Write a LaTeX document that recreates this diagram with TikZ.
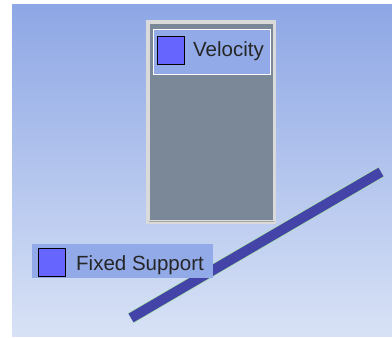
\documentclass[tikz,border=0pt]{standalone}
\usepackage{fontspec}
\setmainfont{Liberation Sans}
\definecolor{bgtop}{HTML}{8EA7E5}
\definecolor{bgbot}{HTML}{D8E2F6}
\definecolor{tagfill}{HTML}{93AAE8}
\definecolor{iconfill}{HTML}{6666FF}
\definecolor{framegray}{HTML}{DADADA}
\definecolor{panelfill}{HTML}{7A8898}
\definecolor{barblue}{HTML}{4444A8}
\definecolor{baredge}{HTML}{A8E0A8}
\tikzset{
  icon/.style={draw=black, line width=1.2pt, fill=iconfill, minimum width=27pt, minimum height=28pt, inner sep=0pt},
  tagtext/.style={font=\fontsize{20.5}{23}\selectfont, text=black!85, anchor=base west, inner sep=0pt},
}
\begin{document}
\begin{tikzpicture}[x=1pt,y=-1pt]
  % page and background gradient
  \useasboundingbox (0,0) rectangle (392,338);
  \fill[white] (0,0) rectangle (392,338);
  \shade[top color=bgtop, bottom color=bgbot] (12,4) rectangle (392,336);

  % panel with light frame
  \fill[framegray] (146,20) rectangle (276,224);
  \fill[panelfill] (150,24) rectangle (273,220);
  \draw[gray!70, line width=1pt] (149,221.5) -- (274,221.5);

  % velocity tag inside the panel
  \node[draw=white, line width=1.2pt, fill=tagfill, minimum width=117pt, minimum height=45pt, anchor=north west, inner sep=0pt] (veltag) at (153,29) {};
  \node[icon, anchor=north west] (velicon) at (156.5,35.5) {};
  \node[tagtext] (veltext) at (193,56) {Velocity};

  % support bar
  \coordinate (barA) at (131,318);
  \coordinate (barB) at (381,172);
  \draw[baredge, line width=11.5pt] (barA) -- (barB);
  \draw[barblue, line width=10pt] (barA) -- (barB);

  % fixed support tag on top of the bar
  \node[fill=tagfill, minimum width=181pt, minimum height=34pt, anchor=north west, inner sep=0pt] (fixtag) at (32,244) {};
  \node[icon, anchor=north west] (fixicon) at (37.5,247.5) {};
  \node[tagtext] (fixtext) at (76,270) {Fixed Support};
\end{tikzpicture}
\end{document}
